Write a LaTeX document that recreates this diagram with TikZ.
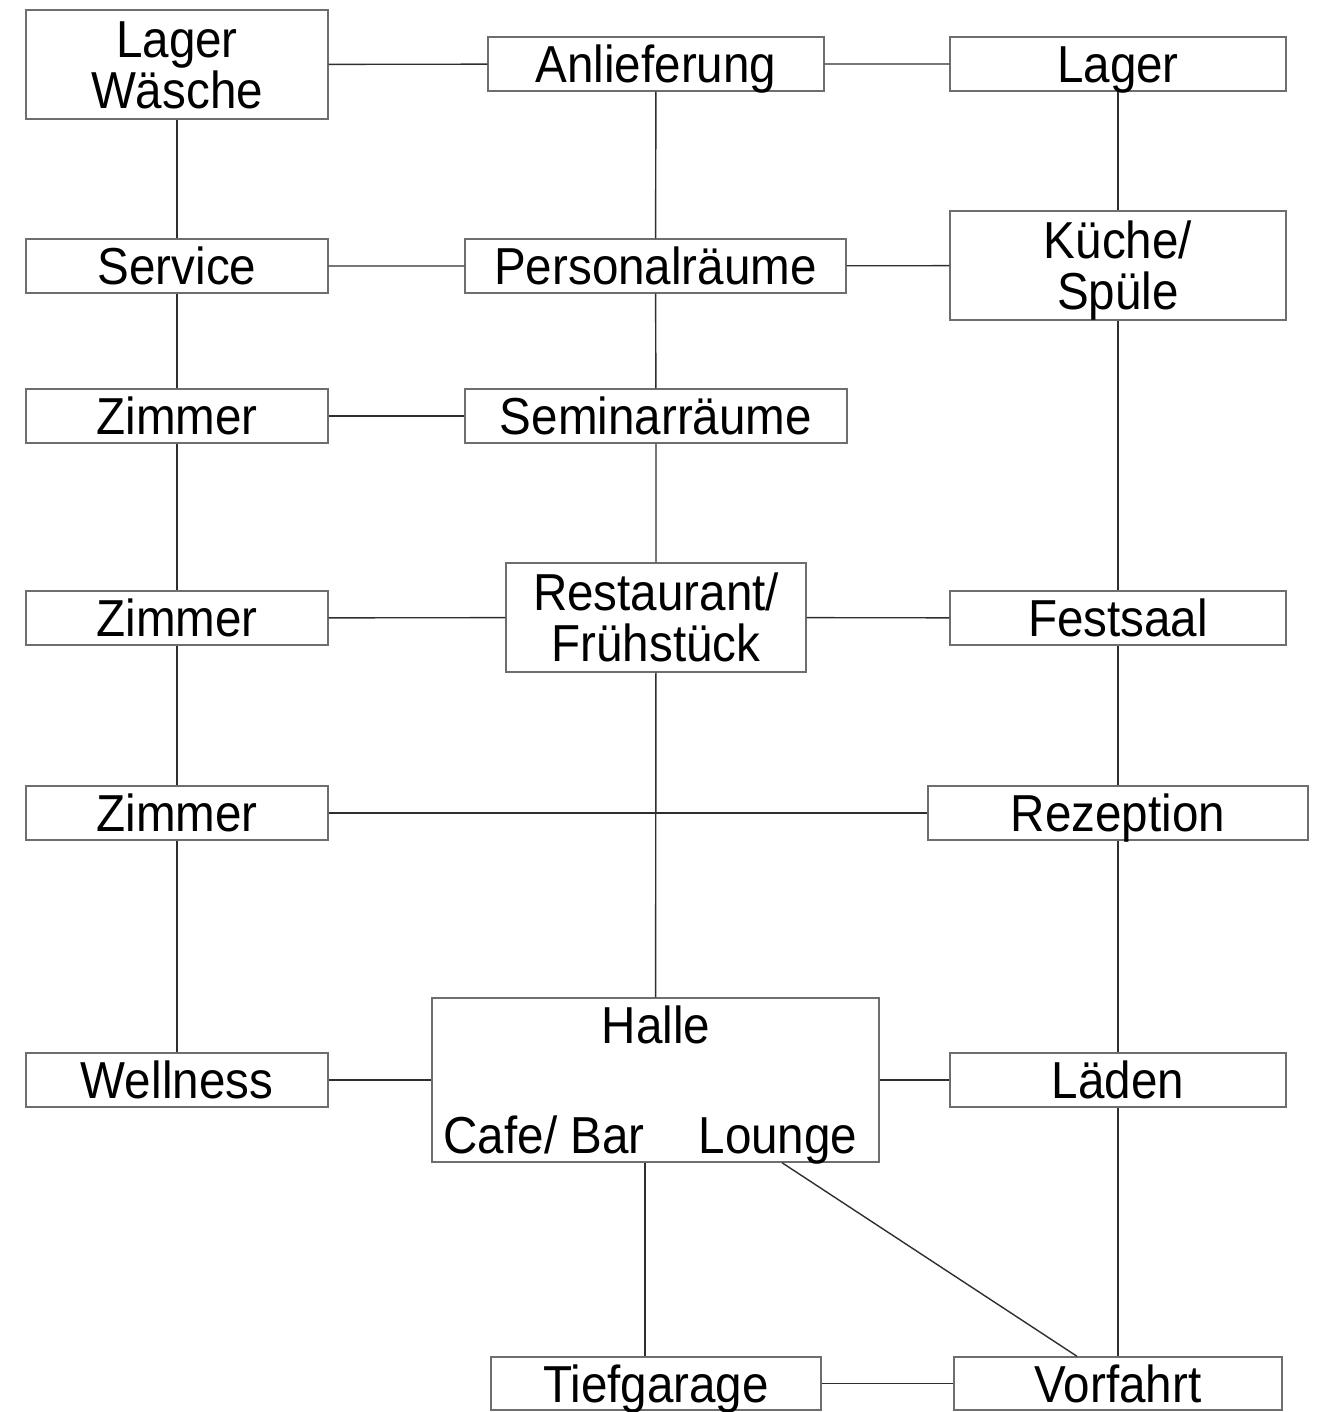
\documentclass[tikz,border=0pt]{standalone}
\usepackage{fontspec}
\setmainfont[FakeStretch=0.915]{Liberation Sans}
\usepackage{tikz}
\usetikzlibrary{positioning, calc}
\definecolor{rmBox}{HTML}{6E6E6E}
\definecolor{rmLine}{HTML}{2E2E2E}

\begin{document}
\begin{tikzpicture}[
  x=0.5pt, y=-0.5pt,
  room/.style={draw=rmBox, line width=0.7pt, align=center, inner sep=0pt,
               font=\fontsize{26}{25.5}\selectfont,
               minimum width=#1, minimum height=27pt,
               text height=18.6pt, text depth=0pt},
  room/.default=151pt,
  room2/.style={room=#1, minimum height=54.5pt, text height=44.1pt},
  lbl/.style={inner sep=0pt, font=\fontsize{26}{25.5}\selectfont,
              text height=18.6pt, text depth=0pt},
  link/.style={rmLine, line width=0.7pt}
]
  \useasboundingbox (0,0) rectangle (1326,1412);

  % left column
  \node[room2=151pt] (lagerW) at (177,64.5) {Lager\\Wäsche};
  \node[room] (service) at (177,266) {Service};
  \node[room] (zimmerA) at (177,416) {Zimmer};
  \node[room] (zimmerB) at (177,618) {Zimmer};
  \node[room] (zimmerC) at (177,813) {Zimmer};
  \node[room] (wellness) at (177,1080) {Wellness};

  % middle column
  \node[room=168pt] (anlief) at (656,64) {Anlieferung};
  \node[room=190.5pt] (personal) at (655.5,266) {Personalräume};
  \node[room=191pt] (seminar) at (656,416) {Seminarräume};
  \node[room2=150pt] (restaurant) at (656,617.5) {Restaurant/\\Frühstück};
  \node[room=223.5pt, minimum height=82pt] (halle) at (655.5,1080) {};
  \node[lbl] (halleT) at (656,1025) {Halle};
  \node[lbl] (cafe) at (544,1135) {Cafe/ Bar};
  \node[lbl] (lounge) at (778,1135) {Lounge};
  \node[room=165pt, minimum height=26.5pt] (tief) at (656,1383.5) {Tiefgarage};

  % right column
  \node[room=168pt] (lagerR) at (1118,64) {Lager};
  \node[room2=168pt] (kueche) at (1118,265.5) {Küche/\\Spüle};
  \node[room=168pt] (festsaal) at (1118,618) {Festsaal};
  \node[room=190pt] (rezeption) at (1118,813) {Rezeption};
  \node[room=168pt] (laeden) at (1118,1080) {Läden};
  \node[room=164pt, minimum height=26.5pt] (vorfahrt) at (1118,1383.5) {Vorfahrt};

  % vertical links
  \draw[link] (lagerW)--(service)--(zimmerA)--(zimmerB)--(zimmerC)--(wellness);
  \draw[link] (anlief)--(personal)--(seminar)--(restaurant)--(halle);
  \draw[link] (lagerR)--(kueche)--(festsaal)--(rezeption)--(laeden)--(vorfahrt);

  % horizontal links
  \draw[link] (lagerW)--(anlief)--(lagerR);
  \draw[link] (service)--(personal)--(kueche);
  \draw[link] (zimmerA)--(seminar);
  \draw[link] (zimmerB)--(restaurant)--(festsaal);
  \draw[link] (zimmerC)--(rezeption);
  \draw[link] (wellness)--(halle)--(laeden);
  \draw[link] (tief)--(vorfahrt);

  % links below the hall
  \draw[link] (cafe.east |- halle.south)--(cafe.east |- tief.north);
  \draw[link] ($(lounge.south |- halle.south)+(4,0)$)--($(vorfahrt.north)+(-41,0)$);
\end{tikzpicture}
\end{document}
